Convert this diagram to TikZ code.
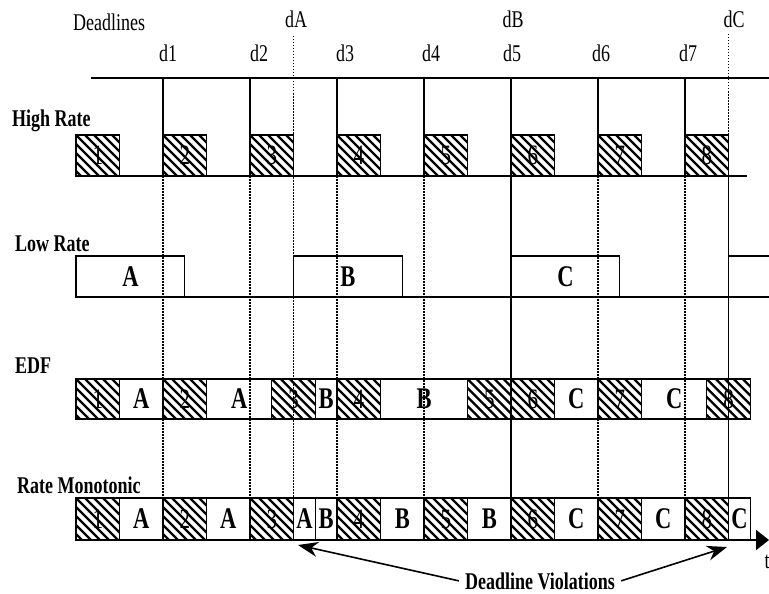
\documentclass[tikz,border=0pt]{standalone}
\usepackage{fontspec}
\setmainfont{Liberation Serif}[FakeStretch=0.75]
\usepackage{tikz}
\usetikzlibrary{arrows.meta}

\begin{document}
\begin{tikzpicture}[
        x=1pt, y=-1pt,
        hitask/.style={draw, line width=1.4pt, inner sep=0pt, outer sep=0pt,
                       anchor=south west, font=\fontsize{28}{28}\selectfont,
                       path picture={
                         \foreach \s in {-54,-45,...,54}
                           \draw[line width=2.4pt]
                             ([xshift=\s pt]path picture bounding box.north west) -- ++(50,50);
                       }},
        lotask/.style={draw, line width=1.4pt, inner sep=0pt, outer sep=0pt,
                       anchor=south west, font=\fontsize{30}{30}\selectfont\bfseries},
        rowlabel/.style={anchor=base west, inner sep=0pt,
                         font=\fontsize{24}{24}\selectfont\bfseries},
        dlabel/.style={anchor=base, inner sep=0pt, font=\fontsize{24}{24}\selectfont},
        timeline/.style={line width=1.8pt},
        dsolid/.style={line width=1.2pt},
        ddotted/.style={line width=1.2pt, dash pattern=on 1.5pt off 1.5pt},
        violarrow/.style={line width=1.6pt, -{Stealth[length=20pt, width=15pt]}}
      ]
        \useasboundingbox (0,0) rectangle (769,594);
        % Deadline markers
        \node[dlabel, anchor=base west] (dl) at (73,31) {Deadlines};
        \draw[timeline] (91,78) -- (769,78);
        \foreach \k/\lx in {1/168, 2/259, 3/345, 4/431, 5/512, 6/601, 7/688}{
          \node[dlabel] (d\k) at (\lx,62) {d\k};
        }
        \foreach \k in {1,2,3,4,6,7}{
          \draw[dsolid]  ({76+87*\k},78)  -- ({76+87*\k},176);
          \draw[ddotted] ({76+87*\k},176) -- ({76+87*\k},540);
        }
        \node[dlabel] (dA) at (296,28) {dA};
        \node[dlabel] (dB) at (513,28) {dB};
        \node[dlabel] (dC) at (734,28) {dC};
        \draw[ddotted] (293.5,36) -- (293.5,540);
        \draw[dsolid]  (511,78) -- (511,540);
        \draw[ddotted] (728.5,34) -- (728.5,176);
        \draw[dsolid]  (728.5,176) -- (728.5,540);
        % High rate task
        \node[rowlabel] (hr) at (12,127) {High Rate};
        \foreach \k in {1,...,8}{
          \node[hitask, minimum width=43.5pt, minimum height=41pt] (H\k)
            at ({76+87*(\k-1)},176) {\k};
        }
        \draw[timeline] (76,176) -- (747,176);
        % Low rate task
        \node[rowlabel] (lr) at (15,251) {Low Rate};
        \foreach \ta/\tb/\lbl [count=\i] in {0/2.5/A, 5/7.5/B, 10/12.5/C, 15/15.95/{}}{
          \node[lotask, minimum width={(\tb-\ta)*43.5pt}, minimum height=41pt] (L\i)
            at ({76+43.5*\ta},297) {\lbl};
        }
        \draw[timeline] (76,297) -- (745,297);
        % EDF schedule
        \node[rowlabel] (edf) at (15,373) {EDF};
        \foreach \ta/\tb/\lbl/\st [count=\i] in {0/1/1/hitask, 1/2/A/lotask,
            2/3/2/hitask, 3/4.5/A/lotask, 4.5/5.5/3/hitask, 5.5/6/B/lotask,
            6/7/4/hitask, 7/9/B/lotask, 9/10/5/hitask, 10/11/6/hitask,
            11/12/C/lotask, 12/13/7/hitask, 13/14.5/C/lotask, 14.5/15.5/8/hitask}{
          \node[\st, minimum width={(\tb-\ta)*43.5pt}, minimum height=40pt] (E\i)
            at ({76+43.5*\ta},419) {\lbl};
        }
        % Rate monotonic schedule
        \node[rowlabel] (rm) at (17,493) {Rate Monotonic};
        \foreach \ta/\tb/\lbl/\st [count=\i] in {0/1/1/hitask, 1/2/A/lotask,
            2/3/2/hitask, 3/4/A/lotask, 4/5/3/hitask, 5/5.5/A/lotask,
            5.5/6/B/lotask, 6/7/4/hitask, 7/8/B/lotask, 8/9/5/hitask,
            9/10/B/lotask, 10/11/6/hitask, 11/12/C/lotask, 12/13/7/hitask,
            13/14/C/lotask, 14/15/8/hitask, 15/15.5/C/lotask}{
          \node[\st, minimum width={(\tb-\ta)*43.5pt}, minimum height=42pt] (R\i)
            at ({76+43.5*\ta},540) {\lbl};
        }
        \coordinate (t0) at (76,540);
        \coordinate (tend) at (769,540);
        \draw[timeline, -{Triangle[length=13pt, width=20pt]}] (t0) -- (tend);
        \node[dlabel] (tlab) at (767,568) {t};
        % Violations
        \node[anchor=base, inner xsep=6pt, inner ysep=0pt,
              font=\fontsize{24}{24}\selectfont\bfseries] (viol) at (540,589)
              {Deadline Violations};
        \coordinate (vA) at (298,545);
        \coordinate (vC) at (727,547);
        \draw[violarrow] (viol.west) -- (vA);
        \draw[violarrow] (viol.east) -- (vC);
      \end{tikzpicture}
\end{document}
